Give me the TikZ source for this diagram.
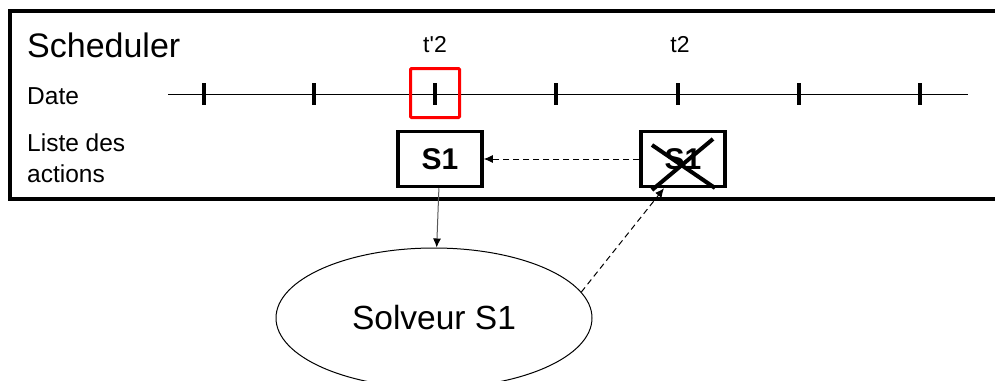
\documentclass[tikz,border=0pt]{standalone}
\usepackage{fontspec}
\setmainfont{Liberation Sans}
\usetikzlibrary{shapes.geometric,arrows.meta}
\tikzset{
  action/.style={draw,line width=3.5pt,minimum width=84pt,minimum height=55pt,inner sep=0pt,font=\fontsize{30}{30}\selectfont\bfseries},
  tick/.style={line width=3.5pt},
  lbl/.style={anchor=west,inner sep=0pt,align=left,font=\fontsize{24.5}{31}\selectfont},
  lien/.style={-{Latex[length=9pt,width=8pt,color=black]},line width=1pt},
  pointille/.style={dash pattern=on 6pt off 4pt},
}
\begin{document}
\begin{tikzpicture}[x=1pt,y=-1pt]
\clip (0,0) rectangle (995,380);
\fill[white] (0,0) rectangle (995,380);
% cadre du scheduler
\draw[line width=4pt] (10,11) rectangle (1020,199);
\node[lbl,font=\fontsize{34}{34}\selectfont] (sched) at (27,45) {Scheduler};
\node[lbl] (date) at (27,96) {Date};
\node[lbl] (liste) at (27,158) {Liste des\\actions};
% axe des dates
\draw[line width=1pt] (168,94) -- (968,94);
\foreach \x in {204,314,435,556,678,799,920}
  \draw[tick] (\x,83) -- (\x,105);
\node[draw=red,line width=3pt,rounded corners=1pt,minimum width=49pt,minimum height=49pt] (cur) at (435,93) {};
\node[font=\fontsize{23}{23}\selectfont] (tp2) at (435,45) {t\textquotesingle 2};
\node[font=\fontsize{23}{23}\selectfont] (t2) at (680,45) {t2};
% actions
\node[action] (s1) at (440,159) {S1};
\node[action] (s1old) at (683,159) {S1};
\draw[line width=4pt] (652,145) -- (715,188);
\draw[line width=4pt] (713,139) -- (652,190);
% solveur
\node[draw,ellipse,line width=1pt,minimum width=316pt,minimum height=140pt,inner sep=0pt,font=\fontsize{33.5}{33.5}\selectfont] (solv) at (434,318) {Solveur S1};
\draw[lien,draw=black!65] (s1) -- (solv);
\draw[lien,pointille] (s1old) -- (s1);
\draw[lien,pointille] (solv.10) -- (s1old.237);
\end{tikzpicture}
\end{document}
